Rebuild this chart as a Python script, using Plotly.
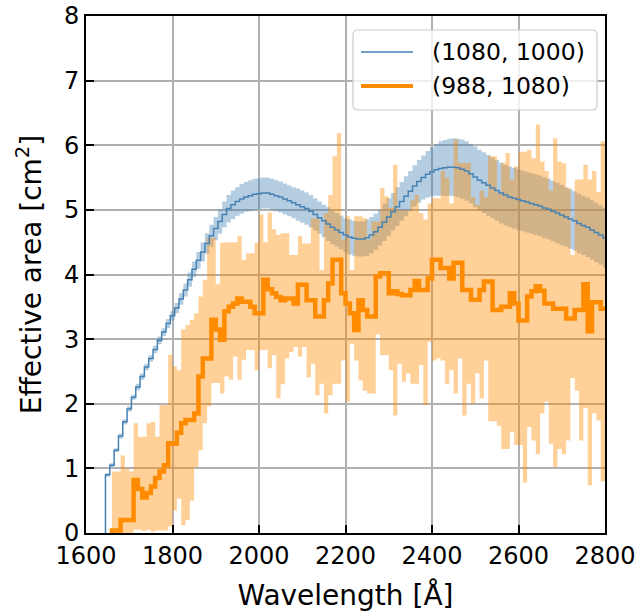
import plotly.graph_objects as go

# ---------------- data ----------------
# Blue series (1080, 1000): bin left edges start 1645, 10 Å bins
blue_start = 1645
blue_width = 10
blue_vals = [
    0.90, 1.05, 1.28, 1.50, 1.72, 1.92, 2.10, 2.26, 2.42, 2.57,
    2.70, 2.84, 2.98, 3.11, 3.24, 3.36, 3.48, 3.62, 3.76, 3.92,
    4.08, 4.22, 4.35, 4.48, 4.60, 4.71, 4.82, 4.93, 5.02, 5.08,
    5.13, 5.17, 5.20, 5.22, 5.24, 5.25, 5.26, 5.26, 5.24, 5.22,
    5.20, 5.17, 5.14, 5.11, 5.08, 5.05, 5.02, 4.98, 4.93, 4.88,
    4.83, 4.78, 4.73, 4.69, 4.65, 4.61, 4.58, 4.56, 4.55, 4.55,
    4.57, 4.61, 4.66, 4.73, 4.81, 4.89, 4.97, 5.05, 5.13, 5.21,
    5.29, 5.37, 5.44, 5.50, 5.55, 5.59, 5.62, 5.64, 5.65, 5.66,
    5.66, 5.65, 5.63, 5.60, 5.56, 5.51, 5.46, 5.42, 5.38, 5.34,
    5.30, 5.26, 5.23, 5.20, 5.18, 5.16, 5.14, 5.12, 5.10, 5.08,
    5.06, 5.03, 5.01, 4.98, 4.95, 4.92, 4.89, 4.86, 4.83, 4.79,
    4.76, 4.73, 4.69, 4.65, 4.61, 4.57,
]
blue_err = [
    0.03, 0.03, 0.03, 0.04, 0.04, 0.04,
    0.04, 0.05, 0.05, 0.05, 0.05, 0.06, 0.06, 0.06, 0.07, 0.07,
    0.08, 0.09, 0.10, 0.11, 0.12, 0.13, 0.15, 0.16, 0.17, 0.18,
    0.19, 0.20, 0.21, 0.22, 0.22, 0.23, 0.23, 0.24, 0.24, 0.24,
    0.24, 0.24, 0.24, 0.24, 0.24, 0.24, 0.24, 0.24, 0.25, 0.25,
    0.25, 0.25, 0.25, 0.25, 0.25, 0.26, 0.26, 0.26, 0.26, 0.26,
    0.27, 0.27, 0.27, 0.27, 0.28, 0.28, 0.28, 0.28, 0.29, 0.29,
    0.29, 0.30, 0.30, 0.31, 0.31, 0.32, 0.33, 0.34, 0.36, 0.38,
    0.40, 0.42, 0.43, 0.44, 0.45, 0.45, 0.46, 0.46, 0.46, 0.47,
    0.47, 0.47, 0.47, 0.47, 0.47, 0.47, 0.47, 0.47, 0.47, 0.47,
    0.47, 0.47, 0.47, 0.47, 0.47, 0.47, 0.47, 0.47, 0.47, 0.47,
    0.46, 0.46, 0.46, 0.46, 0.46, 0.46, 0.46, 0.46, 0.46, 0.46,
]

# Orange series (988, 1080): bin left edges start 1660, 10 Å bins
orange_start = 1660
orange_width = 10
orange_vals = [
    0.04, 0.04, 0.20, 0.20, 0.20, 0.82, 0.68, 0.55, 0.62, 0.72,
    0.85, 0.95, 1.05, 1.39, 1.38, 1.55, 1.70, 1.75, 1.75, 1.85,
    2.42, 2.70, 2.70, 3.30, 3.15, 2.99, 3.43, 3.50, 3.55, 3.63,
    3.58, 3.58, 3.50, 3.40, 3.40, 3.92, 3.77, 3.71, 3.65, 3.60,
    3.63, 3.63, 3.55, 3.84, 3.84, 3.60, 3.60, 3.35, 3.35, 3.60,
    3.86, 4.23, 4.23, 3.71, 3.55, 3.40, 3.14, 3.60, 3.45, 3.35,
    3.35, 3.97, 4.02, 4.02, 3.71, 3.74, 3.70, 3.68, 3.68, 3.76,
    3.90, 3.76, 3.76, 3.94, 4.23, 4.23, 4.10, 4.10, 3.94, 4.18,
    4.18, 3.76, 3.76, 3.61, 3.61, 3.76, 3.89, 3.89, 3.45, 3.45,
    3.50, 3.50, 3.71, 3.55, 3.29, 3.29, 3.66, 3.74, 3.82, 3.75,
    3.55, 3.55, 3.47, 3.47, 3.47, 3.32, 3.32, 3.45, 3.45, 3.85,
    3.12, 3.57, 3.57, 3.47,
]
orange_lo = [
    0.00, 0.00, 0.00, 0.00, 0.00, 0.05, 0.05, 0.03, 0.05, 0.02,
    0.04, 0.04, 0.04, 0.10, 0.35, 0.53, 0.12, 0.20, 0.50, 1.02,
    1.28, 1.70, 1.96, 2.32, 2.32, 2.16, 2.42, 2.37, 2.73, 2.37,
    2.68, 2.83, 2.83, 2.52, 2.83, 2.83, 2.55, 2.75, 2.08, 2.30,
    2.70, 2.80, 2.88, 2.73, 2.88, 2.41, 2.62, 2.13, 2.31, 1.85,
    2.13, 2.31, 2.31, 2.67, 2.03, 2.93, 2.67, 2.36, 2.20, 2.16,
    2.16, 3.07, 2.75, 2.75, 2.52, 1.82, 2.62, 2.34, 2.47, 2.31,
    2.31, 2.60, 1.98, 2.96, 2.67, 2.70, 2.67, 2.31, 2.52, 2.16,
    2.70, 1.82, 2.31, 2.00, 2.47, 2.08, 2.67, 1.73, 1.73, 1.66,
    1.30, 1.30, 1.56, 1.36, 1.36, 0.78, 1.64, 1.43, 1.22, 1.85,
    2.03, 1.38, 1.02, 1.30, 1.22, 1.43, 2.40, 2.20, 1.43, 1.93,
    0.74, 1.85, 1.74, 0.80,
]
orange_hi = [
    0.95, 0.95, 1.20, 1.00, 0.95, 1.70, 1.49, 1.49, 1.70, 1.72,
    1.49, 1.98, 1.98, 2.76, 2.58, 2.52, 3.15, 3.22, 3.30, 3.40,
    3.66, 3.92, 4.57, 4.57, 3.85, 4.49, 4.50, 4.50, 4.50, 4.60,
    4.23, 4.33, 4.33, 4.49, 4.93, 4.50, 4.96, 4.70, 4.61, 4.64,
    4.64, 4.30, 4.30, 4.59, 4.48, 4.48, 4.87, 4.87, 4.07, 4.95,
    5.23, 5.83, 6.19, 4.54, 4.90, 4.07, 4.90, 4.90, 4.87, 4.54,
    4.82, 4.82, 5.34, 5.21, 5.03, 5.70, 5.00, 5.00, 5.00, 5.15,
    5.23, 4.95, 4.85, 5.10, 5.18, 5.18, 5.60, 5.50, 5.10, 6.09,
    5.73, 5.73, 5.73, 5.20, 5.08, 5.30, 5.20, 5.83, 5.83, 5.26,
    5.73, 5.88, 5.47, 5.67, 5.90, 5.90, 5.93, 5.80, 6.32, 5.75,
    5.60, 5.30, 6.11, 5.75, 5.72, 5.34, 4.30, 5.47, 5.47, 5.70,
    5.47, 5.60, 5.28, 6.06,
]

x_ticks = [1600, 1800, 2000, 2200, 2400, 2600, 2800]
y_ticks = [0, 1, 2, 3, 4, 5, 6, 7, 8]
legend_labels = ["(1080, 1000)", "(988, 1080)"]

# ---------------- build step arrays ----------------
def edges(start, width, n):
    return [start + width * i for i in range(n)] + [start + width * n]

def close(vals):
    return list(vals) + [vals[-1]]

bx = edges(blue_start, blue_width, len(blue_vals))
blue_lo = [v - e for v, e in zip(blue_vals, blue_err)]
blue_hi = [v + e for v, e in zip(blue_vals, blue_err)]
ox = edges(orange_start, orange_width, len(orange_vals))

BLUE = "#4682b4"
ORANGE = "#ff8c00"
FONT = "DejaVu Sans"

W, H = 641, 616
ML, MR, MT, MB = 86, 36, 16, 83
PW, PH = W - ML - MR, H - MT - MB

def px(x):  # pixel -> paper x
    return (x - ML) / PW

def py(y):  # pixel -> paper y
    return (H - MB - y) / PH

fig = go.Figure()
# blue band
fig.add_trace(go.Scatter(x=bx, y=close(blue_lo), mode="lines", line=dict(width=0, shape="hv"),
                         showlegend=False, hoverinfo="skip"))
fig.add_trace(go.Scatter(x=bx, y=close(blue_hi), mode="lines", line=dict(width=0, shape="hv"),
                         fill="tonexty", fillcolor="rgba(70,130,180,0.4)",
                         showlegend=False, hoverinfo="skip"))
# orange band
fig.add_trace(go.Scatter(x=ox, y=close(orange_lo), mode="lines", line=dict(width=0, shape="hv"),
                         showlegend=False, hoverinfo="skip"))
fig.add_trace(go.Scatter(x=ox, y=close(orange_hi), mode="lines", line=dict(width=0, shape="hv"),
                         fill="tonexty", fillcolor="rgba(255,140,0,0.4)",
                         showlegend=False, hoverinfo="skip"))
# orange line
fig.add_trace(go.Scatter(x=[ox[0]] + ox, y=[0] + close(orange_vals), mode="lines",
                         line=dict(color=ORANGE, width=4.5, shape="hv"),
                         name=legend_labels[1], showlegend=False))
# blue line
fig.add_trace(go.Scatter(x=[bx[0]] + bx, y=[0] + close(blue_vals), mode="lines",
                         line=dict(color=BLUE, width=1.5, shape="hv"),
                         name=legend_labels[0], showlegend=False))

axis_common = dict(
    showgrid=True, gridcolor="#b0b0b0", gridwidth=1.8,
    showline=True, linecolor="black", linewidth=2, mirror=True,
    ticks="inside", ticklen=8, tickwidth=2, tickcolor="black",
    tickfont=dict(family=FONT, size=24, color="black"),
    zeroline=False, automargin=False,
)

# ---- legend drawn as a framed box (matplotlib-like) ----
x0, x1, y0, y1, r = 353, 597, 30, 110, 5
rx, ry = r / PW, r / PH
X0, X1, Y0, Y1 = px(x0), px(x1), py(y0), py(y1)
legend_path = (
    f"M {X0+rx},{Y0} L {X1-rx},{Y0} Q {X1},{Y0} {X1},{Y0-ry} "
    f"L {X1},{Y1+ry} Q {X1},{Y1} {X1-rx},{Y1} "
    f"L {X0+rx},{Y1} Q {X0},{Y1} {X0},{Y1+ry} "
    f"L {X0},{Y0-ry} Q {X0},{Y0} {X0+rx},{Y0} Z"
)
shapes = [
    dict(type="path", xref="paper", yref="paper", path=legend_path,
         fillcolor="rgba(255,255,255,0.8)", line=dict(color="#cccccc", width=1.2), layer="above"),
    dict(type="line", xref="paper", yref="paper", x0=px(361), x1=px(413), y0=py(52), y1=py(52),
         line=dict(color=BLUE, width=1.5), layer="above"),
    dict(type="line", xref="paper", yref="paper", x0=px(361), x1=px(413), y0=py(86), y1=py(86),
         line=dict(color=ORANGE, width=4), layer="above"),
]
annotations = [
    dict(xref="paper", yref="paper", x=px(430), y=py(52), xanchor="left", yanchor="middle",
         text=legend_labels[0], showarrow=False, font=dict(family=FONT, size=23.5, color="black")),
    dict(xref="paper", yref="paper", x=px(430), y=py(86), xanchor="left", yanchor="middle",
         text=legend_labels[1], showarrow=False, font=dict(family=FONT, size=23.5, color="black")),
]

fig.update_layout(
    width=W, height=H,
    margin=dict(l=ML, r=MR, t=MT, b=MB),
    paper_bgcolor="white", plot_bgcolor="white",
    font=dict(family=FONT, color="black"),
    xaxis=dict(range=[1600, 2800], tickvals=x_ticks,
               title=dict(text="Wavelength [Å]", font=dict(family=FONT, size=28), standoff=17),
               **axis_common),
    yaxis=dict(range=[0, 8], tickvals=y_ticks,
               title=dict(text="Effective area [cm<sup>2</sup>]", font=dict(family=FONT, size=28), standoff=14),
               **axis_common),
    shapes=shapes,
    annotations=annotations,
    showlegend=False,
)

fig.write_html("out.html")
